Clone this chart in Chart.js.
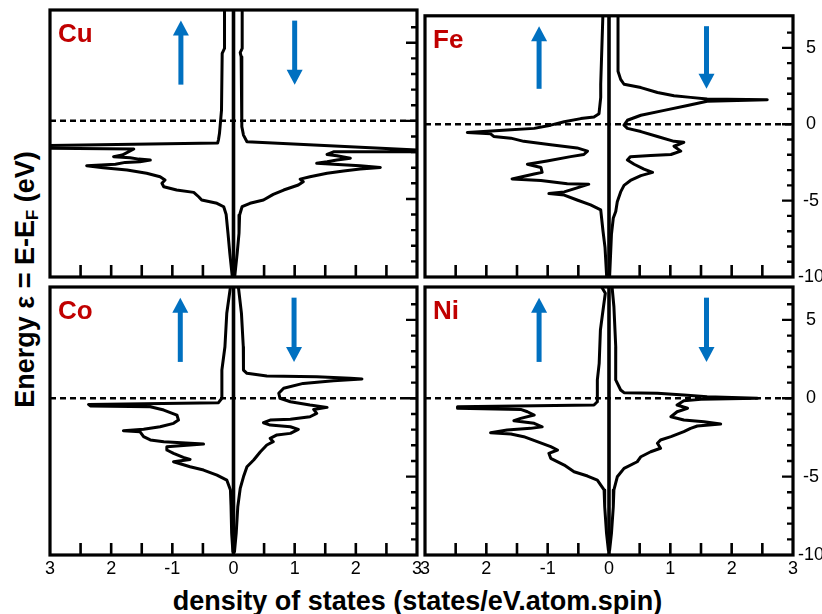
<!DOCTYPE html>
<html>
<head>
<meta charset="utf-8">
<script src="https://cdn.jsdelivr.net/npm/chart.js@4.4.1/dist/chart.umd.min.js"></script>
<style>
  html, body { margin: 0; padding: 0; background: #fff; overflow: hidden; }
  #wrap { position: relative; width: 822px; height: 614px; overflow: hidden; }
  #wrap canvas { position: absolute; left: 0; top: 0; pointer-events: none; }
  .xtitle {
    position: absolute; left: 0; width: 835px; top: 588px;
    text-align: center; white-space: nowrap;
    font: bold 27px "Liberation Sans", Arial, sans-serif; line-height: 27px; color: #000;
  }
  .ytitle {
    position: absolute; left: -125px; top: 266px; width: 300px; height: 27px;
    text-align: center; white-space: nowrap;
    font: bold 27px "Liberation Sans", Arial, sans-serif; line-height: 27px; color: #000;
    transform: rotate(-90deg); transform-origin: 50% 50%;
  }
  .ytitle sub { font-size: 0.62em; vertical-align: -0.25em; line-height: 0; }
</style>
</head>
<body>
<div id="wrap">
  <div class="ytitle">Energy ε = E-E<sub>F</sub> (eV)</div>
  <div class="xtitle">density of states (states/eV.atom.spin)</div>
</div>
<script>
// ---- axes ----
const panelNames = ['Cu', 'Fe', 'Co', 'Ni'];
const xTickValues = [-3, -2, -1, 0, 1, 2, 3];
const xTickLabels = ['3', '2', '-1', '0', '1', '2', '3'];
const yTickValues = [5, 0, -5, -10];
const yTickLabels = ['5', '0', '-5', '-10'];
const xMinorTicks = [-2.5, -2, -1.5, -1, -0.5, 0.5, 1, 1.5, 2, 2.5];
const yMinorTicks = [6, 5, 4, 3, 2, 1, 0, -1, -2, -3, -4, -5, -6, -7, -8, -9];
const energyMin = -10;
const energyMax = 7.1;
const dosMin = -3;
const dosMax = 3;
const fermiLevel = 0;

// spin arrows: DOS position (magnitude) and energy span (tail, tip)
const arrowUpDos = [0.86, 1.14, 0.87, 1.14];
const arrowDownDos = [1.0, 1.59, 0.99, 1.59];
const arrowEnergySpan = [2.32, 6.42];

// ---- densities of states: [energy (eV), states/eV.atom.spin] ----
// spin-up curves are drawn to the left of zero, spin-down to the right
const cuSpinUp = [[7.1,0.147],[4.64,0.147],[4.32,0.185],[0.69,0.196],[-0.80,0.229],[-1.20,0.245],[-1.42,0.26],
  [-1.60,3.3],[-1.74,3.3],[-1.80,1.63],[-2.19,1.82],[-2.30,1.96],[-2.36,1.69],[-2.45,1.55],[-2.51,1.36],
  [-2.62,1.53],[-2.66,1.77],[-2.78,1.93],[-2.87,2.40],[-3.00,2.13],[-3.15,1.74],[-3.36,1.42],[-3.58,1.20],
  [-3.79,1.12],[-4.00,1.17],[-4.22,1.14],[-4.43,0.93],[-4.58,0.65],[-4.86,0.57],[-5.07,0.52],[-5.28,0.27],
  [-5.50,0.16],[-6.00,0.12],[-7.21,0.09],[-8.49,0.06],[-9.98,0.02]];
const cuSpinDown = [[7.1,0.142],[4.64,0.142],[4.37,0.11],[4.11,0.125],[-0.37,0.136],[-0.91,0.163],[-1.34,0.22],
  [-1.93,3.3],[-1.98,3.3],[-1.98,1.635],[-2.15,1.53],[-2.23,1.69],[-2.40,1.91],[-2.51,1.69],[-2.62,1.53],
  [-2.72,1.36],[-2.78,1.635],[-2.87,2.07],[-2.98,2.40],[-3.09,2.07],[-3.21,1.80],[-3.36,1.53],[-3.58,1.25],
  [-3.73,1.09],[-3.90,1.14],[-4.11,1.06],[-4.43,0.82],[-4.71,0.65],[-5.07,0.49],[-5.28,0.27],[-5.50,0.14],
  [-6.03,0.10],[-7.21,0.09],[-8.49,0.06],[-9.98,0.02]];
const feSpinUp = [[7.1,0.10],[2.62,0.135],[1.76,0.135],[0.69,0.163],[0.48,0.245],[0.37,0.46],[0.16,0.73],
  [-0.06,0.95],[-0.27,1.22],[-0.37,1.66],[-0.54,2.31],[-0.63,1.93],[-0.80,1.88],[-0.91,1.60],[-1.12,1.39],
  [-1.34,0.95],[-1.55,0.52],[-1.76,0.35],[-1.98,0.41],[-2.12,0.625],[-2.40,1.01],[-2.62,1.33],[-2.83,1.11],
  [-3.15,1.09],[-3.26,1.22],[-3.58,1.58],[-3.68,1.11],[-3.90,0.68],[-3.92,0.33],[-4.17,0.52],[-4.43,0.73],
  [-4.54,0.98],[-4.64,0.73],[-4.96,0.52],[-5.28,0.30],[-5.60,0.135],[-6.99,0.098],[-8.06,0.065],[-9.98,0.038]];
const feSpinDown = [[7.1,0.147],[3.47,0.147],[2.94,0.19],[2.62,0.245],[2.40,0.52],[2.08,0.79],[1.87,1.06],
  [1.76,1.33],[1.66,1.60],[1.61,2.58],[1.51,1.60],[1.23,1.28],[0.91,0.90],[0.59,0.52],[0.26,0.30],
  [-0.06,0.245],[-0.27,0.30],[-0.48,0.52],[-0.80,0.79],[-1.12,1.06],[-1.18,1.22],[-1.44,1.06],[-1.76,1.17],
  [-1.98,1.01],[-2.04,0.68],[-2.12,0.35],[-2.34,0.30],[-2.62,0.41],[-2.94,0.57],[-3.15,0.71],[-3.36,0.52],
  [-3.68,0.35],[-4.00,0.245],[-4.43,0.19],[-5.07,0.135],[-5.71,0.11],[-6.14,0.07],[-7.21,0.04],[-9.98,0.01]];
const coSpinUp = [[7.1,0.05],[5.42,0.11],[3.29,0.14],[1.80,0.19],[0.0,0.19],[-0.28,0.245],[-0.39,2.37],
  [-0.49,2.34],[-0.54,1.36],[-0.75,1.14],[-1.07,0.925],[-1.39,0.90],[-1.60,0.98],[-1.82,1.20],[-1.98,1.47],
  [-2.07,1.80],[-2.13,1.53],[-2.45,1.47],[-2.66,1.36],[-2.77,1.14],[-2.92,0.49],[-3.09,1.09],[-3.30,1.09],
  [-3.51,0.98],[-3.77,0.82],[-3.90,0.71],[-4.05,0.98],[-4.37,0.71],[-4.58,0.49],[-4.90,0.27],[-5.22,0.11],
  [-5.85,0.05],[-6.92,0.04],[-8.62,0.03],[-9.79,0.01]];
const coSpinDown = [[7.1,0.08],[5.42,0.13],[3.29,0.16],[1.80,0.163],[1.59,0.22],[1.42,0.545],[1.38,1.36],
  [1.27,1.91],[1.23,2.10],[1.12,1.635],[0.95,1.14],[0.64,0.82],[0.32,0.74],[0.00,0.76],[-0.22,0.93],
  [-0.43,1.25],[-0.58,1.53],[-0.71,1.31],[-0.96,1.36],[-1.18,1.25],[-1.34,0.93],[-1.39,0.60],[-1.56,0.49],
  [-1.71,0.60],[-1.82,0.93],[-1.98,1.06],[-2.24,0.93],[-2.34,0.71],[-2.56,0.60],[-2.77,0.65],[-2.98,0.545],
  [-3.41,0.44],[-3.94,0.33],[-4.37,0.22],[-5.01,0.163],[-5.75,0.11],[-6.92,0.07],[-8.62,0.044],[-9.79,0.016]];
const niSpinUp = [[7.1,0.12],[6.7,0.06],[5.84,0.09],[4.36,0.14],[2.23,0.16],[1.17,0.19],[-0.22,0.19],
  [-0.43,0.245],[-0.54,2.47],[-0.64,2.47],[-0.71,1.44],[-0.86,1.33],[-1.07,1.22],[-1.28,1.44],[-1.43,1.55],
  [-1.60,1.22],[-1.82,1.09],[-1.92,1.28],[-2.03,1.66],[-2.20,1.93],[-2.28,1.60],[-2.45,1.39],[-2.77,1.17],
  [-3.09,0.95],[-3.30,0.84],[-3.51,0.98],[-3.83,0.95],[-4.26,0.73],[-4.69,0.57],[-4.96,0.35],[-5.22,0.19],
  [-5.85,0.08],[-6.92,0.07],[-8.62,0.04],[-9.69,0.01]];
const niSpinDown = [[7.1,0.05],[5.84,0.08],[3.29,0.11],[1.17,0.109],[0.53,0.19],[0.36,0.245],[0.32,0.79],
  [0.21,1.22],[0.10,1.60],[0.00,2.42],[-0.07,1.50],[-0.16,1.22],[-0.43,1.11],[-0.64,1.28],[-0.86,1.11],
  [-1.18,1.01],[-1.39,1.22],[-1.50,1.55],[-1.64,1.82],[-1.77,1.44],[-1.92,1.33],[-2.13,1.22],[-2.45,1.01],
  [-2.66,0.84],[-2.87,0.79],[-3.19,0.84],[-3.41,0.68],[-3.73,0.52],[-4.05,0.46],[-4.47,0.245],[-5.01,0.135],
  [-5.85,0.08],[-6.92,0.07],[-8.62,0.04],[-9.69,0.01]];

const spinUpCurves = [cuSpinUp, feSpinUp, coSpinUp, niSpinUp];
const spinDownCurves = [cuSpinDown, feSpinDown, coSpinDown, niSpinDown];

// ---- layout: frame of each panel on the page ----
const PAGE_W = 822, PAGE_H = 614;
const frames = [
  { l: 50,  t: 10,  r: 417, b: 277 },
  { l: 425, t: 10,  r: 793, b: 277 },
  { l: 50,  t: 287, r: 417, b: 555 },
  { l: 425, t: 287, r: 793, b: 555 }
];
const X_AXIS_H = 30, Y_AXIS_W = 29;
const FONT = '"Liberation Sans", Arial, sans-serif';

function drawArrow(ctx, x, yTail, yTip) {
  const dir = yTip < yTail ? -1 : 1;
  const headLen = 15, headHalf = 8;
  ctx.strokeStyle = '#0070c0';
  ctx.fillStyle = '#0070c0';
  ctx.lineWidth = 5;
  ctx.lineCap = 'butt';
  ctx.beginPath();
  ctx.moveTo(x, yTail);
  ctx.lineTo(x, yTip - dir * headLen + dir * 1);
  ctx.stroke();
  ctx.beginPath();
  ctx.moveTo(x, yTip);
  ctx.lineTo(x - headHalf, yTip - dir * headLen);
  ctx.lineTo(x + headHalf, yTip - dir * headLen);
  ctx.closePath();
  ctx.fill();
}

// frame, inward ticks, spin arrows and element name
const panelDecor = {
  id: 'panelDecor',
  afterDatasetsDraw(chart, args, opts) {
    const { ctx, chartArea: a } = chart;
    const x = chart.scales.x, y = chart.scales.y;
    ctx.save();
    ctx.strokeStyle = '#000';
    ctx.lineCap = 'butt';
    ctx.lineWidth = 2.6;
    ctx.beginPath();
    for (const v of xMinorTicks) {
      const px = x.getPixelForValue(v);
      ctx.moveTo(px, a.bottom);
      ctx.lineTo(px, a.bottom - 12);
    }
    ctx.stroke();
    ctx.lineWidth = 2.4;
    ctx.beginPath();
    for (const v of yMinorTicks) {
      const py = y.getPixelForValue(v);
      const len = v % 5 === 0 ? 11 : 6;
      ctx.moveTo(a.right, py);
      ctx.lineTo(a.right - len, py);
    }
    ctx.stroke();
    ctx.lineWidth = 3.2;
    ctx.strokeRect(a.left, a.top, a.right - a.left, a.bottom - a.top);

    const i = opts.index;
    const yTail = y.getPixelForValue(arrowEnergySpan[0]);
    const yTip = y.getPixelForValue(arrowEnergySpan[1]);
    drawArrow(ctx, x.getPixelForValue(-arrowUpDos[i]), yTail, yTip);
    drawArrow(ctx, x.getPixelForValue(arrowDownDos[i]), yTip, yTail);

    ctx.fillStyle = '#c00000';
    ctx.font = 'bold 26px ' + FONT;
    ctx.textBaseline = 'alphabetic';
    ctx.textAlign = 'left';
    ctx.fillText(panelNames[i], a.left + 8, a.top + 32);
    ctx.restore();
  }
};

const wrap = document.getElementById('wrap');

panelNames.forEach((name, i) => {
  const f = frames[i];
  const rightCol = i % 2 === 1;
  const bottomRow = i >= 2;
  const canvas = document.createElement('canvas');
  canvas.width = PAGE_W;
  canvas.height = PAGE_H;
  canvas.style.width = PAGE_W + 'px';
  canvas.style.height = PAGE_H + 'px';
  wrap.appendChild(canvas);

  const curve = (pts, sign) => pts.map(p => ({ x: sign * p[1], y: p[0] }));
  const lineStyle = {
    showLine: true, pointRadius: 0, borderColor: '#000', backgroundColor: '#000',
    borderWidth: 3, tension: 0, fill: false, borderJoinStyle: 'round', borderCapStyle: 'round'
  };

  new Chart(canvas, {
    type: 'scatter',
    data: {
      datasets: [
        Object.assign({ label: name + ' spin up', data: curve(spinUpCurves[i], -1) }, lineStyle),
        Object.assign({ label: name + ' spin down', data: curve(spinDownCurves[i], 1) }, lineStyle),
        Object.assign({ label: 'zero', data: [{ x: 0, y: energyMin }, { x: 0, y: energyMax }] }, lineStyle,
          { borderWidth: 3.6, borderCapStyle: 'butt' }),
        Object.assign({ label: 'Fermi level', data: [{ x: dosMin, y: fermiLevel }, { x: dosMax, y: fermiLevel }] },
          lineStyle, { borderWidth: 2.5, borderDash: [6, 4], borderCapStyle: 'butt' })
      ]
    },
    options: {
      responsive: false,
      animation: false,
      events: [],
      devicePixelRatio: 1,
      layout: {
        padding: {
          left: f.l,
          top: f.t,
          right: PAGE_W - f.r - (rightCol ? Y_AXIS_W : 0),
          bottom: PAGE_H - f.b - (bottomRow ? X_AXIS_H : 0)
        }
      },
      plugins: {
        legend: { display: false },
        tooltip: { enabled: false },
        panelDecor: { index: i }
      },
      scales: {
        x: {
          type: 'linear', position: 'bottom', min: dosMin, max: dosMax,
          grid: { display: false, drawTicks: false },
          border: { display: false },
          afterBuildTicks: s => { s.ticks = xTickValues.map(v => ({ value: v })); },
          afterFit: s => { s.height = bottomRow ? X_AXIS_H : 0; },
          ticks: {
            display: bottomRow, autoSkip: false, maxRotation: 0, padding: 3,
            color: '#000', font: { family: FONT, size: 18 },
            callback: (v, idx) => xTickLabels[idx]
          }
        },
        y: {
          type: 'linear', position: 'right', min: energyMin, max: energyMax,
          grid: { display: false, drawTicks: false },
          border: { display: false },
          afterBuildTicks: s => { s.ticks = yTickValues.map(v => ({ value: v })); },
          afterFit: s => { s.width = rightCol ? Y_AXIS_W : 0; },
          ticks: {
            display: rightCol, autoSkip: false, padding: 5, crossAlign: 'center',
            color: '#000', font: { family: FONT, size: 18 },
            callback: (v, idx) => yTickLabels[idx]
          }
        }
      }
    },
    plugins: [panelDecor]
  });
});
</script>
</body>
</html>
